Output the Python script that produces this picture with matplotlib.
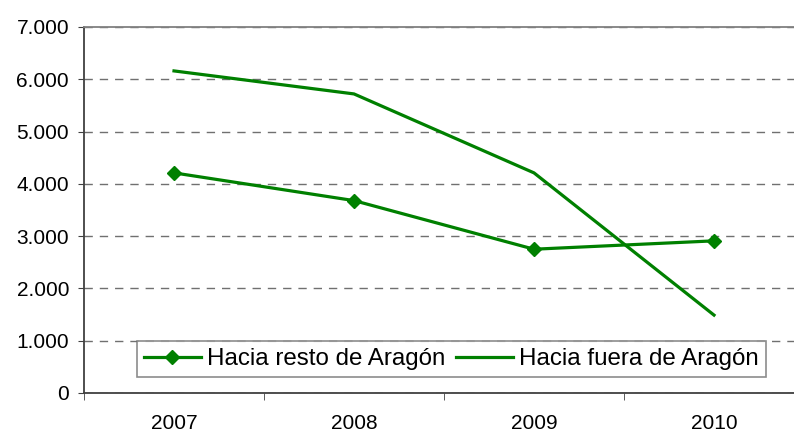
import matplotlib
matplotlib.use('Agg')
import matplotlib.pyplot as plt
from matplotlib.ticker import FuncFormatter, FixedLocator

# Datos
years = ['2007', '2008', '2009', '2010']
resto_aragon = [4210, 3680, 2750, 2910]
fuera_aragon = [6160, 5720, 4210, 1490]

plt.rcParams['font.family'] = ['Liberation Sans', 'DejaVu Sans']

fig = plt.figure(figsize=(7.94, 4.32), dpi=100)
ax = fig.add_axes([84 / 794, 1 - 393 / 432, 720 / 794, 366 / 432])

x = [i + 0.5 for i in range(len(years))]
green = '#008000'
ax.plot(x, resto_aragon, color=green, lw=2.3, marker='D', ms=7,
        label='Hacia resto de Aragón')
ax.plot(x, fuera_aragon, color=green, lw=2.3, label='Hacia fuera de Aragón')

ax.set_xlim(0, 4)
ax.set_ylim(0, 7000)
ax.set_yticks(range(0, 7001, 1000))
ax.yaxis.set_major_formatter(FuncFormatter(lambda v, p: f'{int(v):,}'.replace(',', '.')))

# etiquetas de categoria en el centro, marcas en los limites
ax.set_xticks(x)
ax.set_xticklabels(years)
ax.tick_params(axis='x', which='major', length=0, pad=15, labelsize=15)
ax.xaxis.set_minor_locator(FixedLocator([0, 1, 2, 3, 4]))
ax.tick_params(axis='x', which='minor', length=5, color='#404040')
ax.tick_params(axis='y', length=4.3, color='#404040', labelsize=15, pad=6.5)

ax.grid(axis='y', color='#707070', linestyle=(0, (6, 5)), lw=1)
ax.set_axisbelow(True)
for s in ['left', 'bottom']:
    ax.spines[s].set_color('#404040')
    ax.spines[s].set_linewidth(1.3)
ax.spines['top'].set_color('#808080')
ax.spines['top'].set_linewidth(1.3)
ax.spines['right'].set_visible(False)

leg = ax.legend(loc='lower left', bbox_to_anchor=(137 / 794, 1 - 377 / 432),
                bbox_transform=fig.transFigure, ncol=2, fontsize=17.4,
                frameon=True, fancybox=False, borderaxespad=0,
                handlelength=2.36, handletextpad=0.25, columnspacing=0.45,
                borderpad=0.28)
leg.get_frame().set_edgecolor('#707070')
leg.get_frame().set_linewidth(1.2)

fig.savefig('out.png', dpi=100)
